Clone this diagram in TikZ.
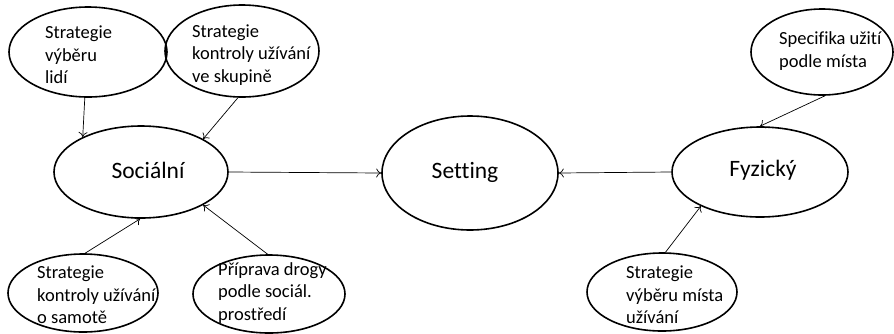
\documentclass[tikz,border=0pt]{standalone}
\usepackage{fontspec}
\setmainfont[Ligatures=NoCommon]{Carlito}
\usetikzlibrary{shapes.geometric,arrows.meta}
\begin{document}
\begin{tikzpicture}[x=1pt,y=-1pt,
  oval/.style={draw=black,line width=1.6pt,ellipse,inner sep=0pt},
  small/.style={font=\fontsize{18.5}{22.5}\selectfont,align=left,anchor=west,inner sep=0pt},
  big/.style={font=\fontsize{23.5}{27}\selectfont,inner sep=0pt},
  link/.style={draw=black,line width=0.7pt,-{To[length=5pt,width=9pt]}}]
\useasboundingbox (0,0) rectangle (894,333);
% ellipses
\node[oval,minimum width=158pt,minimum height=90pt] (A) at (88,52) {};
\node[oval,minimum width=154pt,minimum height=92pt] (B) at (242,51) {};
\node[oval,minimum width=150pt,minimum height=78pt] (C) at (83,293) {};
\node[oval,minimum width=152pt,minimum height=78pt] (D) at (269,294) {};
\node[oval,minimum width=174pt,minimum height=92pt] (S) at (141,172) {};
\node[oval,minimum width=176pt,minimum height=114pt] (T) at (470,173) {};
\node[oval,minimum width=176pt,minimum height=90pt] (F) at (760,172) {};
\node[oval,minimum width=142pt,minimum height=86pt] (E) at (822,52) {};
\node[oval,minimum width=150pt,minimum height=78pt] (G) at (662,292) {};
% texts
\node[small] (tA) at (45,55) {Strategie\\výběru\\lidí};
\node[small] (tB) at (192,55) {Strategie\\kontroly užívání\\ve skupině};
\node[small] (tC) at (37,295) {Strategie\\kontroly užívání\\o samotě};
\node[small] (tD) at (218,293) {Příprava drogy\\podle sociál.\\prostředí};
\node[small] (tE) at (779,51) {Specifika užití\\podle místa};
\node[small] (tG) at (626,295) {Strategie\\výběru místa\\užívání};
\node[big] (tS) at (148,170) {Sociální};
\node[big] (tT) at (465,172) {Setting};
\node[big] (tF) at (763,170) {Fyzický};
% connectors
\draw[link] (A.-94) -- (S.149.5);
\draw[link] (B.-95) -- (S.28.7);
\draw[link] (C.87) -- (S.-91);
\draw[link] (D.92) -- (S.-28);
\draw[link] (S.east) -- (T.west);
\draw[link] (F.west) -- (T.east);
\draw[link] (E.-86) -- (F.90);
\draw[link] (G.85) -- (F.-150.6);
\end{tikzpicture}
\end{document}
